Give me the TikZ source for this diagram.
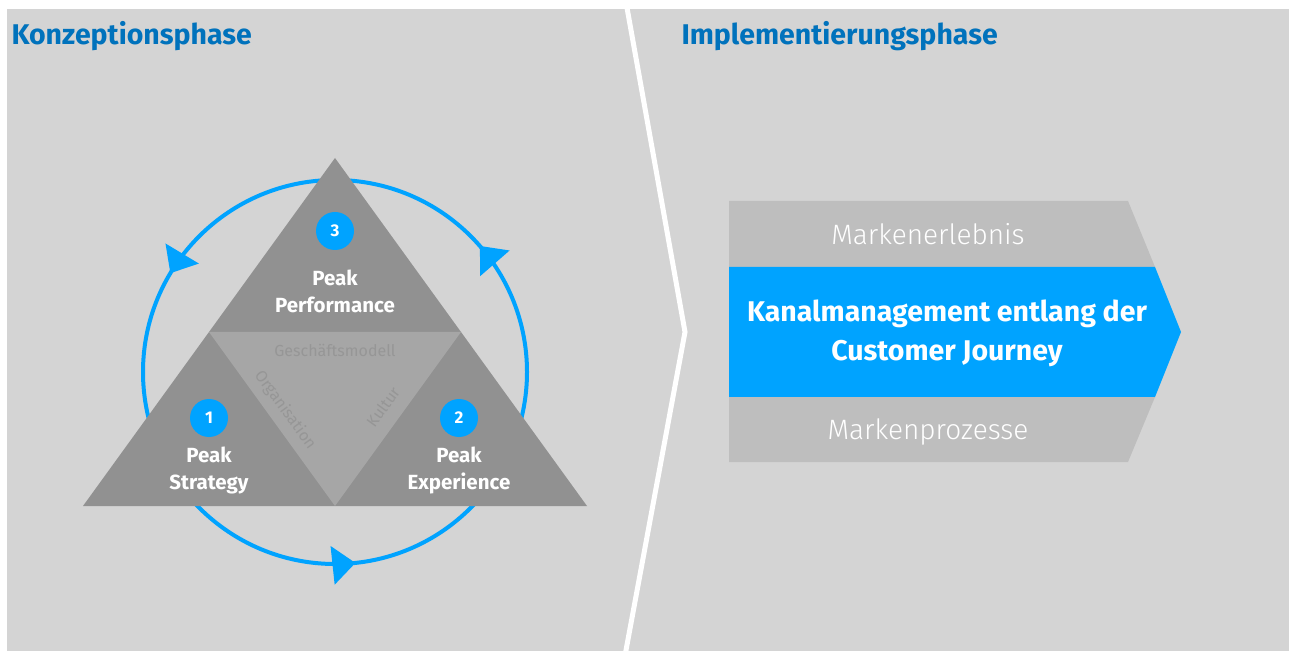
\documentclass[tikz,border=0pt]{standalone}
\usepackage{fontspec}
\setmainfont{Fira Sans}
\newfontfamily\lightfont{Fira Sans Light}
\usetikzlibrary{
    arrows.meta,
    positioning,
    decorations.markings
}
\definecolor{bggray}{RGB}{212, 212, 212}
\definecolor{trigray}{RGB}{145, 145, 145}
\definecolor{innergray}{RGB}{166, 166, 166}
\definecolor{layertext}{RGB}{150, 150, 150}
\definecolor{bandgray}{RGB}{190, 190, 190}
\definecolor{peakblue}{RGB}{0, 163, 255}
\definecolor{titleblue}{RGB}{0, 114, 188}

\begin{document}
\begin{tikzpicture}[
        x=1pt, y=1pt,
        phase/.style={anchor=west, font=\fontsize{28.5}{34}\selectfont\bfseries, text=titleblue},
        peak/.style={align=center, font=\fontsize{20.5}{27}\selectfont\bfseries, text=white},
        badge/.style={circle, fill=peakblue, minimum size=38pt, inner sep=0pt, font=\fontsize{17}{20}\selectfont\bfseries, text=white},
        layer/.style={font=\fontsize{16}{19}\selectfont, text=layertext},
        band/.style={font=\lightfont\fontsize{28}{32}\selectfont, text=white},
        cycle arrow/.style={draw=peakblue, line width=4pt, postaction={decorate},
            decoration={markings,
                mark=at position 0.114 with {\arrow{Triangle[length=23pt, width=38pt]}},
                mark=at position 0.414 with {\arrow{Triangle[length=23pt, width=38pt]}},
                mark=at position 0.767 with {\arrow{Triangle[length=23pt, width=38pt]}}}}
    ]
        % Page and background
        \useasboundingbox (0, 0) rectangle (1289, 651);
        \fill[bggray] (7, 0) rectangle (1289, 642);

        % Divider between the phases
        \draw[white, line width=5pt] (624, 660) -- (685, 319) -- (624, -10);

        % Phase titles
        \node[phase] (konz) at (8, 615) {Konzeptionsphase};
        \node[phase] (impl) at (678, 615) {Implementierungsphase};

        % Cycle around the triangle
        \path[cycle arrow] (335, 279) circle (192);

        % Triangle
        \coordinate (top) at (335, 493);
        \coordinate (left) at (83, 145);
        \coordinate (right) at (587, 145);
        \coordinate (ml) at (209, 319);
        \coordinate (mr) at (461, 319);
        \coordinate (mb) at (335, 145);
        \fill[trigray] (left) -- (top) -- (right) -- cycle;
        \fill[innergray] (ml) -- (mr) -- (mb) -- cycle;

        % Inner layers
        \node[layer] (gesch) at (335, 301) {Geschäftsmodell};
        \node[layer, rotate=-54] (orga) at (285, 241) {Organisation};
        \node[layer, rotate=54] (kult) at (383, 244) {Kultur};

        % Peaks
        \node[badge] (n3) at (335, 420) {3};
        \node[peak] (perf) at (335, 360) {Peak\\Performance};
        \node[badge] (n1) at (209, 233) {1};
        \node[peak] (strat) at (209, 181) {Peak\\Strategy};
        \node[badge] (n2) at (459, 233) {2};
        \node[peak] (exp) at (459, 181) {Peak\\Experience};

        % Channel bands
        \fill[bandgray] (729, 450) -- (1128, 450) -- (1155, 384) -- (729, 384) -- cycle;
        \fill[peakblue] (729, 384) -- (1155, 384) -- (1181, 319) -- (1155, 254) -- (729, 254) -- cycle;
        \fill[bandgray] (729, 254) -- (1155, 254) -- (1128, 189) -- (729, 189) -- cycle;

        \node[band] (erl) at (928, 417) {Markenerlebnis};
        \node[align=center, font=\fontsize{28.5}{39}\selectfont\bfseries, text=white] (kanal) at (947, 318) {
            Kanalmanagement entlang der\\
            Customer Journey
        };
        \node[band] (proz) at (928, 219) {Markenprozesse};
    \end{tikzpicture}
\end{document}
